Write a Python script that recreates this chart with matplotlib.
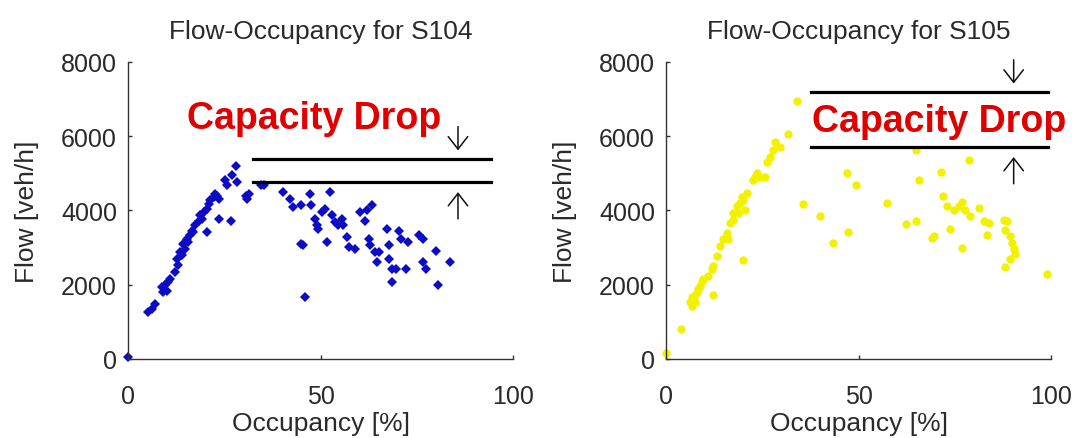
from matplotlib import pyplot as plt

plt.rcParams['font.family'] = ['Liberation Sans', 'DejaVu Sans']

# S104 (blue diamonds): occupancy [%], flow [veh/h]
occ_104 = [0, 5.2, 6.1, 7.0, 8.7, 9.6, 10.5, 9.2, 10.1, 10.9, 12.2, 13.1, 12.7, 14.0,
           13.5, 14.9, 14.4, 15.7, 16.2, 15.3, 16.6, 17.5, 17.0, 18.4, 18.8, 19.7,
           19.2, 20.5, 21.0, 21.4, 22.3, 22.7, 23.2, 23.6, 20.5, 23.6, 26.7, 25.3,
           27.1, 28.0, 28.4, 25.8, 30.6, 31.0, 31.5, 34.5, 35.4,
           40.2, 42.0, 42.8, 45.0, 47.2, 47.6, 48.5, 49.0, 49.4, 50.3, 51.1, 52.4,
           52.9, 53.8, 54.6, 55.5, 55.9, 56.8, 57.3, 59.0, 60.3, 61.6, 62.1, 63.4,
           62.5, 62.9, 64.2, 64.7, 65.1, 67.3, 67.7, 67.7, 68.6, 68.6, 69.5, 70.4,
           70.8, 72.1, 72.6, 75.6, 76.5, 76.5, 77.4, 80.0, 80.4, 83.5, 45.0, 45.5,
           45.9, 51.6]
flow_104 = [50, 1260, 1350, 1480, 1930, 1980, 2070, 1800, 1840, 2160, 2340, 2520, 2700,
            2790, 2880, 2970, 3100, 3150, 3330, 3240, 3460, 3600, 3420, 3730, 3870,
            3960, 3780, 4050, 4180, 4270, 4360, 4450, 4400, 4320, 3420, 3780, 3730,
            4810, 4950, 5210, 4770, 4680, 4400, 4320, 4450, 4680, 4680,
            4500, 4320, 4090, 4140, 4450, 4140, 3780, 3600, 3510, 3960, 4050, 4500,
            3870, 3690, 3600, 3780, 3600, 3280, 3010, 2970, 3960, 3730, 4000, 4140,
            3240, 3060, 2880, 2610, 2880, 3510, 3060, 2700, 2430, 2070, 2430, 3460,
            3240, 2430, 3150, 3330, 3240, 2610, 2430, 2920, 1980, 2610, 3100, 3060,
            1660, 3150]

# S105 (yellow dots)
occ_105 = [0, 3.8, 6.2, 6.7, 7.1, 7.5, 8.0, 8.4, 8.8, 9.3, 6.7, 7.5, 12.3, 11.9, 12.3,
           13.2, 14.0, 14.9, 15.8, 16.6, 17.5, 18.4, 19.2, 19.7, 20.1, 21.0, 20.5,
           19.9, 22.7, 23.1, 23.6, 24.4, 25.7, 26.2, 27.0, 27.9, 28.3, 29.6, 31.8,
           34.0, 17.5, 18.8, 16.2, 11.0, 9.7,
           35.5, 40.0, 43.5, 47.1, 49.4, 47.4, 57.5, 62.3, 65.0, 65.0, 65.6, 69.1,
           69.5, 71.5, 71.9, 73.8, 76.9, 78.6, 73.0, 74.7, 76.0, 76.9, 77.7, 79.0,
           81.2, 82.5, 83.8, 83.4, 87.7, 88.6, 88.1, 89.4, 89.9, 90.3, 90.7, 89.4,
           88.1, 99.0]
flow_105 = [150, 800, 1530, 1660, 1620, 1710, 1800, 1880, 1970, 2110, 1440, 1530, 1720,
            2420, 2510, 2770, 3040, 3220, 3400, 3660, 3930, 4110, 4200, 4370, 4280,
            4460, 4020, 2670, 4820, 4910, 5000, 4910, 4910, 5310, 5440, 5620, 5840,
            5710, 6060, 6950, 3750, 3930, 3220, 2240, 2150,
            4170, 3860, 3130, 5000, 4680, 3410, 4200, 3640, 3710, 5620, 4820, 3260,
            3320, 5040, 4390, 3500, 3000, 5350, 4110, 4020, 4110, 4240, 4020, 3840,
            4060, 3710, 3660, 3350, 3750, 3710, 3480, 3310, 3130, 2950, 2820, 2680,
            2480, 2300]

# capacity drop levels [veh/h]: (upper, lower)
drop_104 = (5390, 4765)
drop_105 = (7190, 5710)

fig = plt.figure(figsize=(10.74, 4.39), dpi=100)
ax1 = fig.add_axes([0.1192, 0.18, 0.3585, 0.6765])
ax2 = fig.add_axes([0.6201, 0.18, 0.3585, 0.6765])


def style_axes(ax, title):
    ax.set_xlim(0, 100)
    ax.set_ylim(0, 8000)
    ax.set_xticks([0, 50, 100])
    ax.set_yticks([0, 2000, 4000, 6000, 8000])
    for s in ['top', 'right']:
        ax.spines[s].set_visible(False)
    for s in ['left', 'bottom']:
        ax.spines[s].set_color('#333333')
        ax.spines[s].set_linewidth(1.0)
    ax.tick_params(direction='in', length=3, width=1, color='#333333',
                   labelsize=18, labelcolor='#2a2a2a')
    ax.tick_params(axis='y', pad=8)
    ax.tick_params(axis='x', pad=18)
    ax.set_title(title, fontsize=19, color='#2a2a2a', pad=17)
    ax.set_xlabel('Occupancy [%]', fontsize=19, color='#2a2a2a', labelpad=2)
    ax.set_ylabel('Flow [veh/h]', fontsize=19, color='#2a2a2a', labelpad=16)


def capacity_drop(ax, x0, x1, levels, xa, text_xy):
    hi, lo = levels
    ax.plot([x0, x1], [hi, hi], color='black', lw=2.3, clip_on=False)
    ax.plot([x0, x1], [lo, lo], color='black', lw=2.3, clip_on=False)
    arrow = dict(arrowstyle='->,head_length=0.9,head_width=0.7', color='#111111',
                 lw=1.1, shrinkA=0, shrinkB=0)
    ax.annotate('', xy=(xa, hi + 230), xytext=(xa, hi + 870), arrowprops=arrow,
                annotation_clip=False)
    ax.annotate('', xy=(xa, lo - 270), xytext=(xa, lo - 990), arrowprops=arrow,
                annotation_clip=False)
    ax.text(text_xy[0], text_xy[1], 'Capacity Drop', color='#e00000', fontsize=27,
            fontweight='bold', ha='left', va='center', clip_on=False)


style_axes(ax1, 'Flow-Occupancy for S104')
ax1.plot(occ_104, flow_104, 'D', color='#0c0cc4', ms=5.5, mew=0, clip_on=False)
capacity_drop(ax1, 32.5, 94.4, drop_104, 85.7, (15.3, 6500))

style_axes(ax2, 'Flow-Occupancy for S105')
ax2.plot(occ_105, flow_105, 'o', color='#f2f200', ms=6, mew=0, clip_on=False)
capacity_drop(ax2, 37.6, 99.1, drop_105, 90.3, (37.8, 6420))

fig.savefig('out.png', dpi=100)
